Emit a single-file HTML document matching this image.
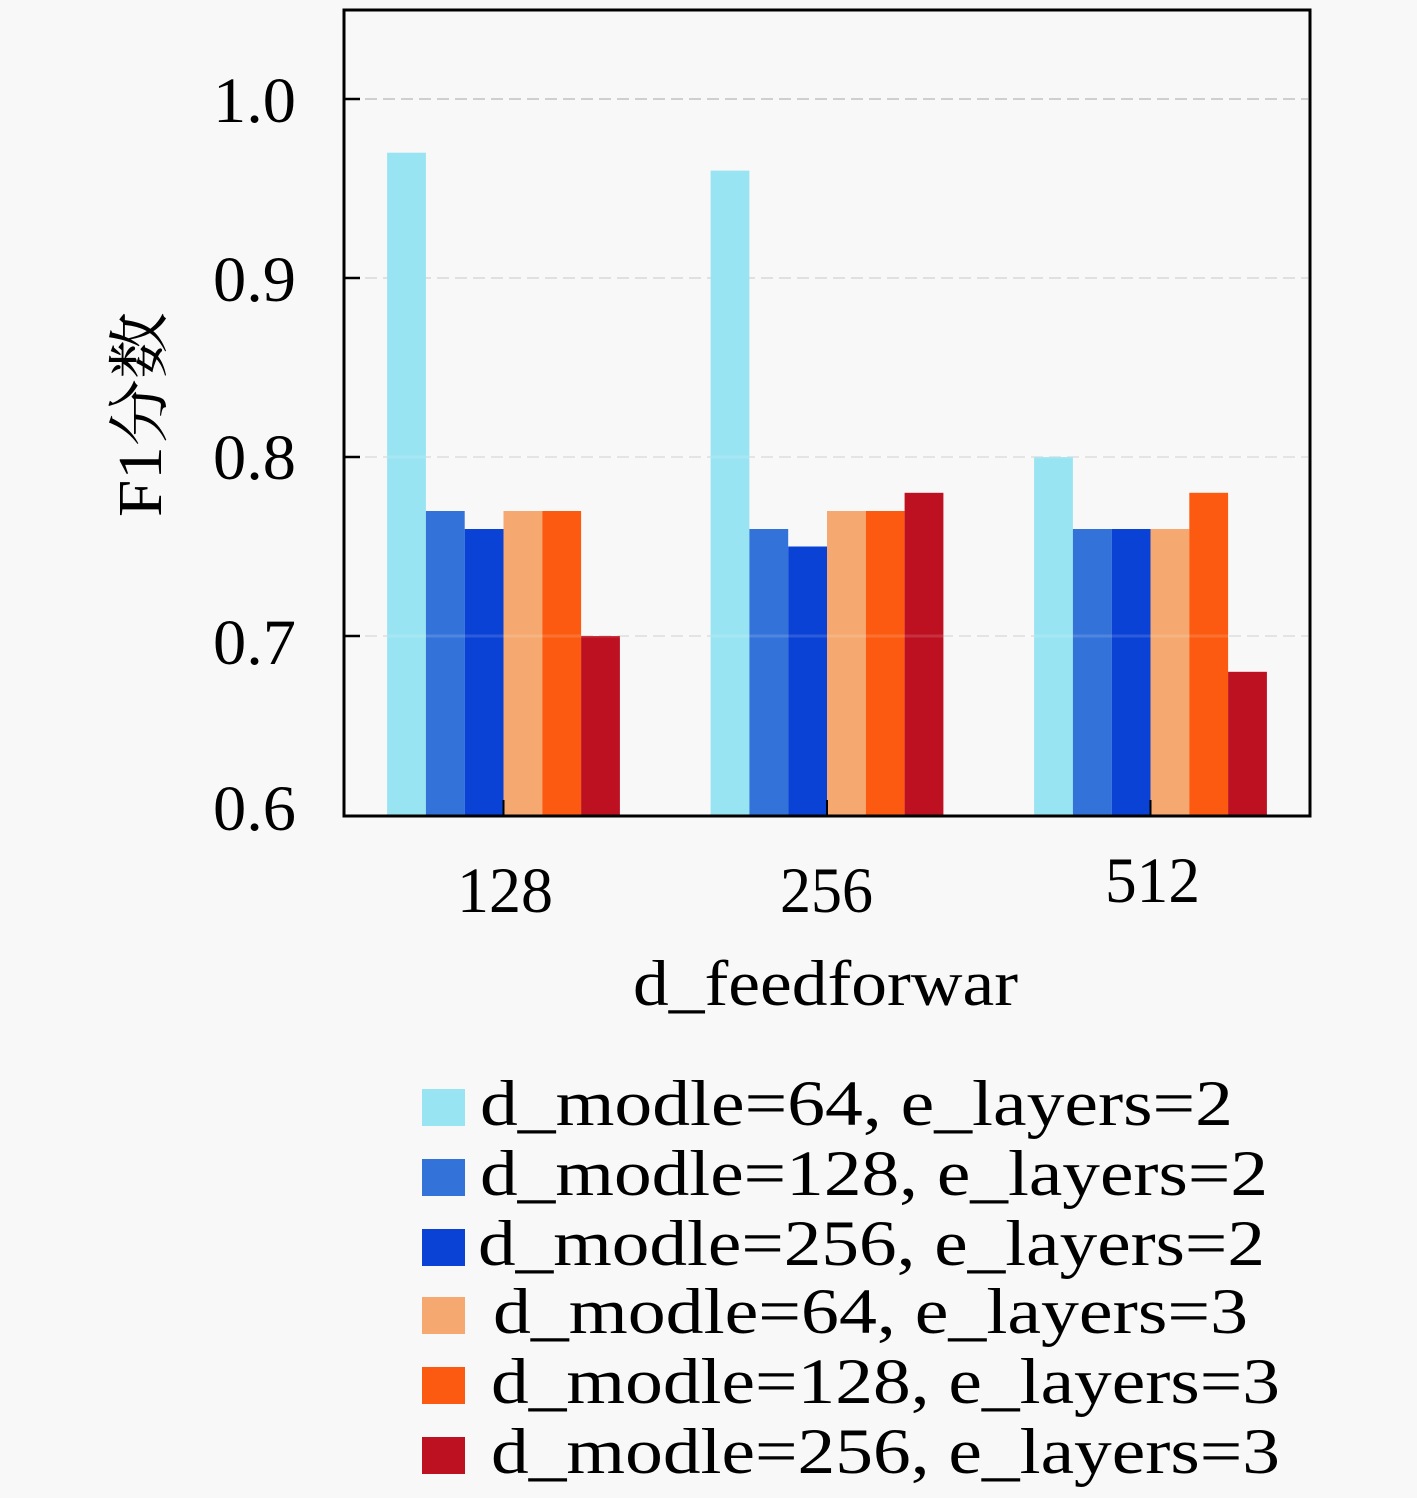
<!DOCTYPE html>
<html>
<head>
<meta charset="utf-8">
<style>
  html, body { margin:0; padding:0; background:#f8f8f8; }
  body { width:1417px; height:1498px; overflow:hidden; }
  svg { display:block; }
  text { font-family: "Liberation Serif", "Noto Serif CJK SC", serif; fill:#000; }
</style>
</head>
<body>
<svg width="1417" height="1498" viewBox="0 0 1417 1498" xmlns="http://www.w3.org/2000/svg">
  <rect x="0" y="0" width="1417" height="1498" fill="#f8f8f8"/>

  <!-- gridlines (under bars) -->
  <g stroke-width="2" stroke-dasharray="12,6" fill="none">
    <line x1="347" y1="99" x2="1308" y2="99" stroke="#cfcfcf"/>
    <line x1="347" y1="278" x2="1308" y2="278" stroke="#e0e0e0"/>
    <line x1="347" y1="457" x2="1308" y2="457" stroke="#e0e0e0"/>
    <line x1="347" y1="636" x2="1308" y2="636" stroke="#e0e0e0"/>
  </g>

  <!-- bars group 128 -->
  <g>
    <rect x="387.1" y="152.7" width="38.8" height="662.3" fill="#98e4f2"/>
    <rect x="425.9" y="511" width="38.8" height="304" fill="#3373d9"/>
    <rect x="464.7" y="529" width="38.8" height="286" fill="#0a42d6"/>
    <rect x="503.5" y="511" width="38.8" height="304" fill="#f5a86f"/>
    <rect x="542.3" y="511" width="38.8" height="304" fill="#fb5a10"/>
    <rect x="581.1" y="636" width="38.8" height="179" fill="#bd1021"/>
  </g>
  <!-- bars group 256 -->
  <g>
    <rect x="710.6" y="170.6" width="38.8" height="644.4" fill="#98e4f2"/>
    <rect x="749.4" y="529" width="38.8" height="286" fill="#3373d9"/>
    <rect x="788.2" y="546.5" width="38.8" height="268.5" fill="#0a42d6"/>
    <rect x="827" y="511" width="38.8" height="304" fill="#f5a86f"/>
    <rect x="865.8" y="511" width="38.8" height="304" fill="#fb5a10"/>
    <rect x="904.6" y="492.8" width="38.8" height="322.2" fill="#bd1021"/>
  </g>
  <!-- bars group 512 -->
  <g>
    <rect x="1034.1" y="457" width="38.8" height="358" fill="#98e4f2"/>
    <rect x="1072.9" y="529" width="38.8" height="286" fill="#3373d9"/>
    <rect x="1111.7" y="529" width="38.8" height="286" fill="#0a42d6"/>
    <rect x="1150.5" y="529" width="38.8" height="286" fill="#f5a86f"/>
    <rect x="1189.3" y="492.8" width="38.8" height="322.2" fill="#fb5a10"/>
    <rect x="1228.1" y="671.8" width="38.8" height="143.2" fill="#bd1021"/>
  </g>

  <!-- faint grid overlay over bars -->
  <g stroke="#ffffff" stroke-opacity="0.14" stroke-width="3" fill="none">
    <line x1="347" y1="457" x2="1308" y2="457"/>
    <line x1="347" y1="636" x2="1308" y2="636"/>
  </g>

  <!-- ticks -->
  <g stroke="#000" stroke-width="2.5">
    <line x1="345" y1="99" x2="360" y2="99"/>
    <line x1="345" y1="278" x2="360" y2="278"/>
    <line x1="345" y1="457" x2="360" y2="457"/>
    <line x1="345" y1="636" x2="360" y2="636"/>
  </g>
  <g stroke="#000" stroke-width="2">
    <line x1="503.5" y1="815" x2="503.5" y2="800"/>
    <line x1="827" y1="815" x2="827" y2="800"/>
    <line x1="1150.5" y1="815" x2="1150.5" y2="800"/>
  </g>

  <!-- spines -->
  <rect x="344" y="10" width="966" height="806" fill="none" stroke="#000" stroke-width="3"/>

  <!-- y tick labels -->
  <g font-size="65">
    <text x="213" y="122" textLength="83" lengthAdjust="spacingAndGlyphs">1.0</text>
    <text x="213" y="301" textLength="83" lengthAdjust="spacingAndGlyphs">0.9</text>
    <text x="213" y="479" textLength="83" lengthAdjust="spacingAndGlyphs">0.8</text>
    <text x="213" y="664" textLength="83" lengthAdjust="spacingAndGlyphs">0.7</text>
    <text x="213" y="830" textLength="83" lengthAdjust="spacingAndGlyphs">0.6</text>
  </g>

  <!-- x tick labels -->
  <g font-size="65">
    <text x="457" y="912" textLength="96" lengthAdjust="spacingAndGlyphs">128</text>
    <text x="780" y="912" textLength="93" lengthAdjust="spacingAndGlyphs">256</text>
    <text x="1105" y="902" textLength="95" lengthAdjust="spacingAndGlyphs">512</text>
  </g>

  <!-- x axis label -->
  <text x="633" y="1005" font-size="65" textLength="385" lengthAdjust="spacingAndGlyphs">d_feedforwar</text>

  <!-- y axis label -->
  <text transform="translate(161,517) rotate(-90)" x="0" y="0" font-size="62" textLength="205" lengthAdjust="spacingAndGlyphs" style="font-family:'Liberation Serif','Noto Serif CJK SC','Noto Sans CJK SC',serif;">F1分数</text>

  <!-- legend -->
  <g>
    <rect x="422" y="1089" width="43" height="37" fill="#98e4f2"/>
    <rect x="422" y="1159" width="43" height="37" fill="#3373d9"/>
    <rect x="422" y="1229" width="43" height="37" fill="#0a42d6"/>
    <rect x="422" y="1297" width="43" height="37" fill="#f5a86f"/>
    <rect x="422" y="1367" width="43" height="37" fill="#fb5a10"/>
    <rect x="422" y="1437" width="43" height="37" fill="#bd1021"/>
  </g>
  <g font-size="65">
    <text x="480" y="1125" textLength="753" lengthAdjust="spacingAndGlyphs">d_modle=64, e_layers=2</text>
    <text x="480" y="1195" textLength="788" lengthAdjust="spacingAndGlyphs">d_modle=128, e_layers=2</text>
    <text x="478" y="1265" textLength="787" lengthAdjust="spacingAndGlyphs">d_modle=256, e_layers=2</text>
    <text x="493" y="1333" textLength="755" lengthAdjust="spacingAndGlyphs">d_modle=64, e_layers=3</text>
    <text x="491" y="1403" textLength="789" lengthAdjust="spacingAndGlyphs">d_modle=128, e_layers=3</text>
    <text x="491" y="1473" textLength="789" lengthAdjust="spacingAndGlyphs">d_modle=256, e_layers=3</text>
  </g>
</svg>
</body>
</html>
